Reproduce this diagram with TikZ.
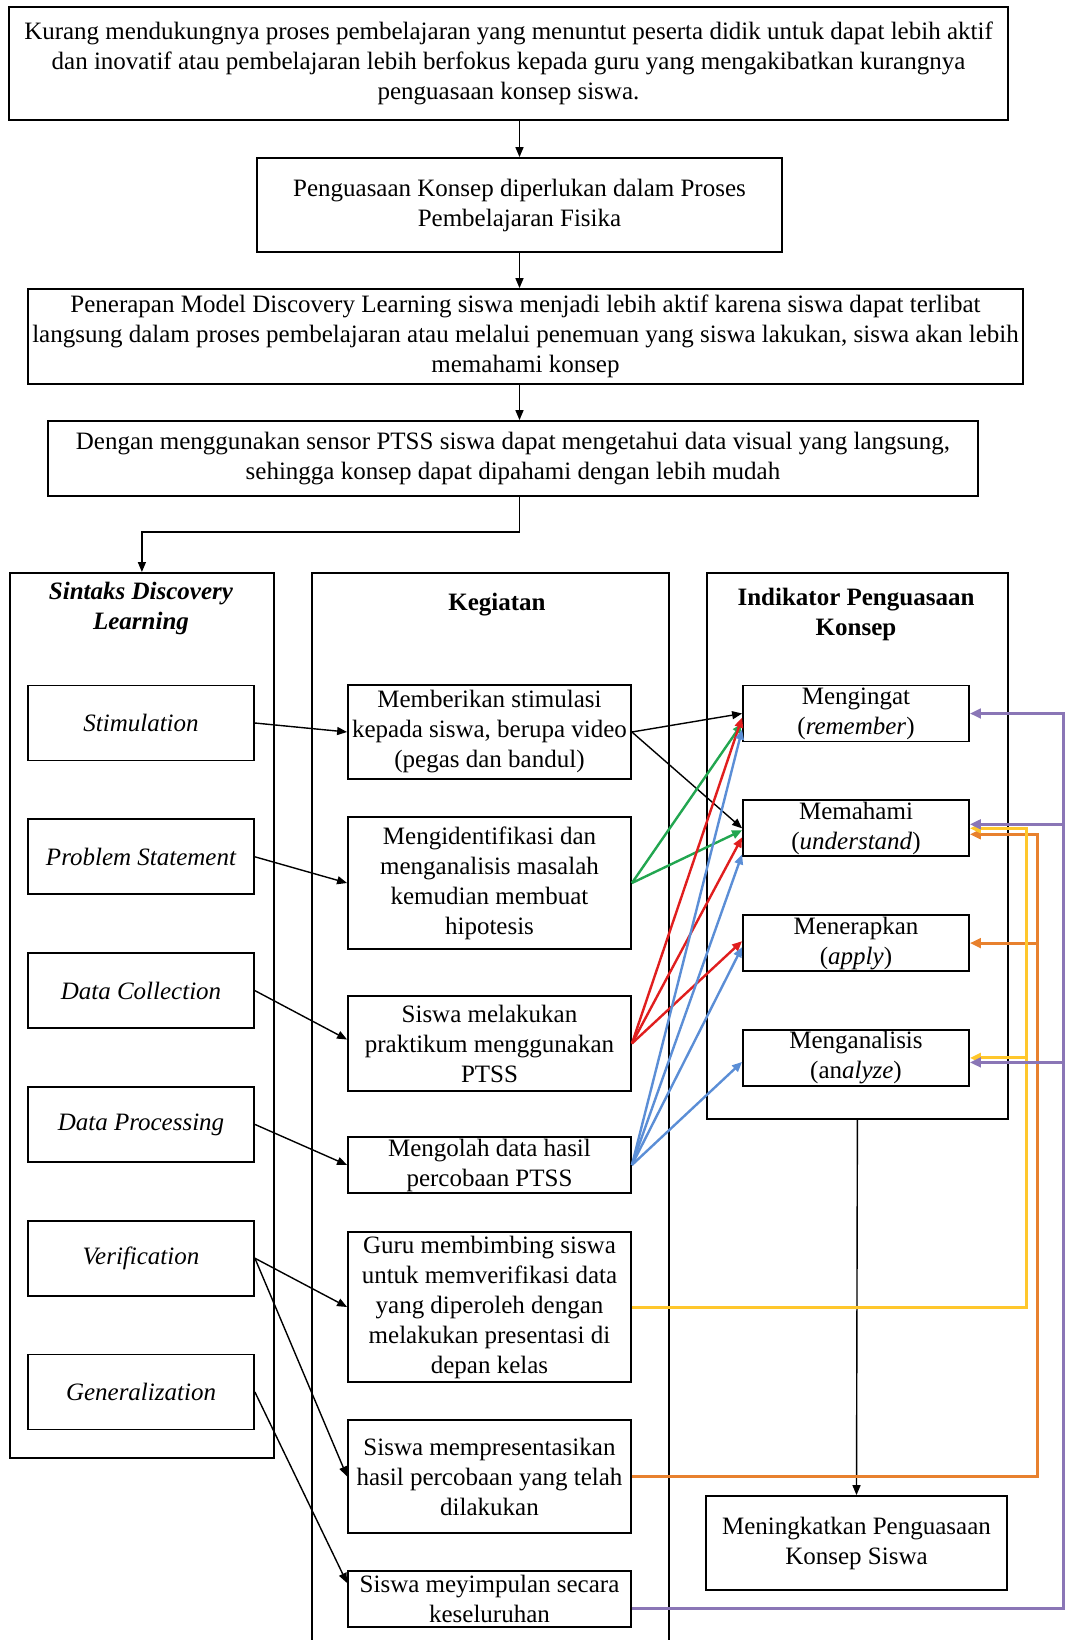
\documentclass[tikz,border=0pt]{standalone}
\usepackage{fontspec}
\setmainfont{Liberation Serif}
\usetikzlibrary{positioning, arrows.meta, calc}
\definecolor{linkgreen}{HTML}{22A650}
\definecolor{linkred}{HTML}{E01E1E}
\definecolor{linkblue}{HTML}{5B8ED6}
\definecolor{linkyellow}{HTML}{FFC72C}
\definecolor{linkorange}{HTML}{E8812E}
\definecolor{linkpurple}{HTML}{8A76B6}
\tikzset{
    box/.style={
        draw, line width=0.9pt, align=center,
        inner xsep=1pt, inner ysep=0pt,
        font=\fontsize{12.5}{15}\selectfont,
    },
    stage/.style={
        box, font=\fontsize{12.5}{15}\selectfont\itshape,
        minimum width=113pt, minimum height=37.5pt,
    },
    activity/.style={
        box, minimum width=141.5pt,
    },
    indicator/.style={
        box, minimum width=113pt, minimum height=28pt,
    },
    panel/.style={
        draw, line width=0.9pt, anchor=north west, inner sep=0pt,
    },
    paneltitle/.style={
        align=center, font=\fontsize{12.5}{15}\selectfont\bfseries,
    },
    link/.style={
        -{Triangle[length=5pt, width=4pt]},
        line width=0.7pt, color=black,
    },
    colink/.style={
        -{Triangle[length=5pt, width=4.2pt]},
        line width=1.2pt, color=#1,
    },
    bus/.style={
        -{Triangle[length=5.5pt, width=4.8pt]},
        line width=1.5pt, color=#1,
    },
}
\begin{document}
\begin{tikzpicture}[x=0.5pt, y=-0.5pt]
\useasboundingbox (0,0) rectangle (1065,1640);

% =============================================
% Top chain
% =============================================
\node[box, minimum width=499.5pt, minimum height=56.5pt] (problem) at (508.5,63.5)
    {Kurang mendukungnya proses pembelajaran yang menuntut peserta didik untuk dapat lebih aktif\\
     dan inovatif atau pembelajaran lebih berfokus kepada guru yang mengakibatkan kurangnya\\
     penguasaan konsep siswa.};
\node[box, minimum width=262.5pt, minimum height=47pt] (need) at (519.5,205)
    {Penguasaan Konsep diperlukan dalam Proses\\ Pembelajaran Fisika};
\node[box, minimum width=497.5pt, minimum height=47.5pt, inner xsep=0pt] (model) at (525.5,336.5)
    {Penerapan Model Discovery Learning siswa menjadi lebih aktif karena siswa dapat terlibat\\
     langsung dalam proses pembelajaran atau melalui penemuan yang siswa lakukan, siswa akan lebih\\
     memahami konsep};
\node[box, minimum width=465pt, minimum height=37.5pt] (sensor) at (513,458.5)
    {Dengan menggunakan sensor PTSS siswa dapat mengetahui data visual yang langsung,\\
     sehingga konsep dapat dipahami dengan lebih mudah};

% =============================================
% Panels
% =============================================
\node[panel, minimum width=132pt, minimum height=442.5pt] (sintaks) at (9,572) {};
\node[panel, minimum width=178.5pt, minimum height=544pt] (kegiatan) at (311,572) {};
\node[panel, minimum width=150.5pt, minimum height=273pt] (indikator) at (706,572) {};

\node[paneltitle, font=\fontsize{12.5}{15}\selectfont\bfseries\itshape] (sintakstitle) at (141,608)
    {Sintaks Discovery\\ Learning};
\node[paneltitle] (kegiatantitle) at (497,605) {Kegiatan};
\node[paneltitle] (indikatortitle) at (856,614) {Indikator Penguasaan\\ Konsep};

% Sintaks
\node[stage] (stim) at (141,723) {Stimulation};
\node[stage, below=28.5pt of stim] (prob) {Problem Statement};
\node[stage, below=28.5pt of prob] (collect) {Data Collection};
\node[stage, below=28.5pt of collect] (process) {Data Processing};
\node[stage, below=28.5pt of process] (verify) {Verification};
\node[stage, below=28.5pt of verify] (general) {Generalization};

% Kegiatan
\node[activity, minimum height=47pt] (act1) at (489.5,732)
    {Memberikan stimulasi\\ kepada siswa, berupa video\\ (pegas dan bandul)};
\node[activity, minimum height=66pt] (act2) at (489.5,883)
    {Mengidentifikasi dan\\ menganalisis masalah\\ kemudian membuat\\ hipotesis};
\node[activity, minimum height=47.5pt] (act3) at (489.5,1043.5)
    {Siswa melakukan\\ praktikum menggunakan\\ PTSS};
\node[activity, minimum height=28pt] (act4) at (489.5,1165)
    {Mengolah data hasil\\ percobaan PTSS};
\node[activity, minimum height=75pt] (act5) at (489.5,1307)
    {Guru membimbing siswa\\ untuk memverifikasi data\\ yang diperoleh dengan\\ melakukan presentasi di\\ depan kelas};
\node[activity, minimum height=56.5pt] (act6) at (489.5,1476.5)
    {Siswa mempresentasikan\\ hasil percobaan yang telah\\ dilakukan};
\node[activity, minimum height=28pt] (act7) at (489.5,1599)
    {Siswa meyimpulan secara\\ keseluruhan};

% Indikator
\node[indicator] (remember) at (856,713.5) {Mengingat\\ (\textit{remember})};
\node[indicator, below=28.5pt of remember] (understand) {Memahami\\ (\textit{understand})};
\node[indicator, below=28.5pt of understand] (apply) {Menerapkan\\ (\textit{apply})};
\node[indicator, below=28.5pt of apply] (analyze) {Menganalisis\\ (an\textit{alyze})};

\node[box, minimum width=150.5pt, minimum height=47pt] (result) at (856.5,1543)
    {Meningkatkan Penguasaan\\ Konsep Siswa};

% =============================================
% Top chain arrows
% =============================================
\draw[link] (problem.south -| need.north) -- (need.north);
\draw[link] (need.south) -- (need.south |- model.north);
\draw[link] (model.south -| need.south) -- (need.south |- sensor.north);
\draw[link] (sensor.south -| need.south) -- ++(0,35) -| (sintaks.north);
\draw[link] (indikator.south) -- (result.north);

% =============================================
% Sintaks -> Kegiatan
% =============================================
\draw[link] (stim.east) -- (act1.west);
\draw[link] (prob.east) -- (act2.west);
\draw[link] (collect.east) -- ([yshift=2pt]act3.west);
\draw[link] (process.east) -- (act4.west);
\draw[link] (verify.east) -- (act5.west);
\draw[link] (verify.east) -- (act6.west);
\draw[link] (general.east) -- ([yshift=8pt]act7.west);

% =============================================
% Kegiatan -> Indikator
% =============================================
\draw[link] (act1.east) -- (remember.west);
\draw[link] (act1.east) -- (understand.west);
\draw[colink=linkgreen] (act2.east) -- ([yshift=-5pt]remember.west);
\draw[colink=linkgreen] (act2.east) -- ([yshift=-1pt]understand.west);
\draw[colink=linkred] (act3.east) -- ([yshift=-2pt]remember.west);
\draw[colink=linkred] (act3.east) -- ([yshift=-4.5pt]understand.west);
\draw[colink=linkred] (act3.east) -- ([yshift=1pt]apply.west);
\draw[colink=linkblue] (act4.east) -- ([yshift=-8pt]remember.west);
\draw[colink=linkblue] (act4.east) -- ([yshift=-13pt]understand.west);
\draw[colink=linkblue] (act4.east) -- ([yshift=-2pt]apply.west);
\draw[colink=linkblue] (act4.east) -- ([yshift=-2pt]analyze.west);

% =============================================
% Feedback buses on the right
% =============================================
\coordinate (orangebus) at (1037,0);
\coordinate (yellowbus) at (1026,0);
\coordinate (purplebus) at (1063,0);
\coordinate (act7out) at ([yshift=-4.5pt]act7.east);
\coordinate (understandO) at ([yshift=-3pt]understand.east);
\coordinate (understandP) at ([yshift=2pt]understand.east);
\coordinate (analyzeP) at ([yshift=-2.25pt]analyze.east);

\draw[bus=linkorange] (act6.east) -| (orangebus |- understandO) -- (understandO);
\draw[bus=linkorange] (orangebus |- apply.east) -- (apply.east);

\draw[bus=linkyellow] (act5.east) -| (yellowbus |- understand.east) -- (understand.east);
\draw[bus=linkyellow] (yellowbus |- analyze.east) -- (analyze.east);

\draw[bus=linkpurple] (act7out) -| (purplebus |- remember.east) -- (remember.east);
\draw[bus=linkpurple] (purplebus |- understandP) -- (understandP);
\draw[bus=linkpurple] (purplebus |- analyzeP) -- (analyzeP);

\end{tikzpicture}
\end{document}
